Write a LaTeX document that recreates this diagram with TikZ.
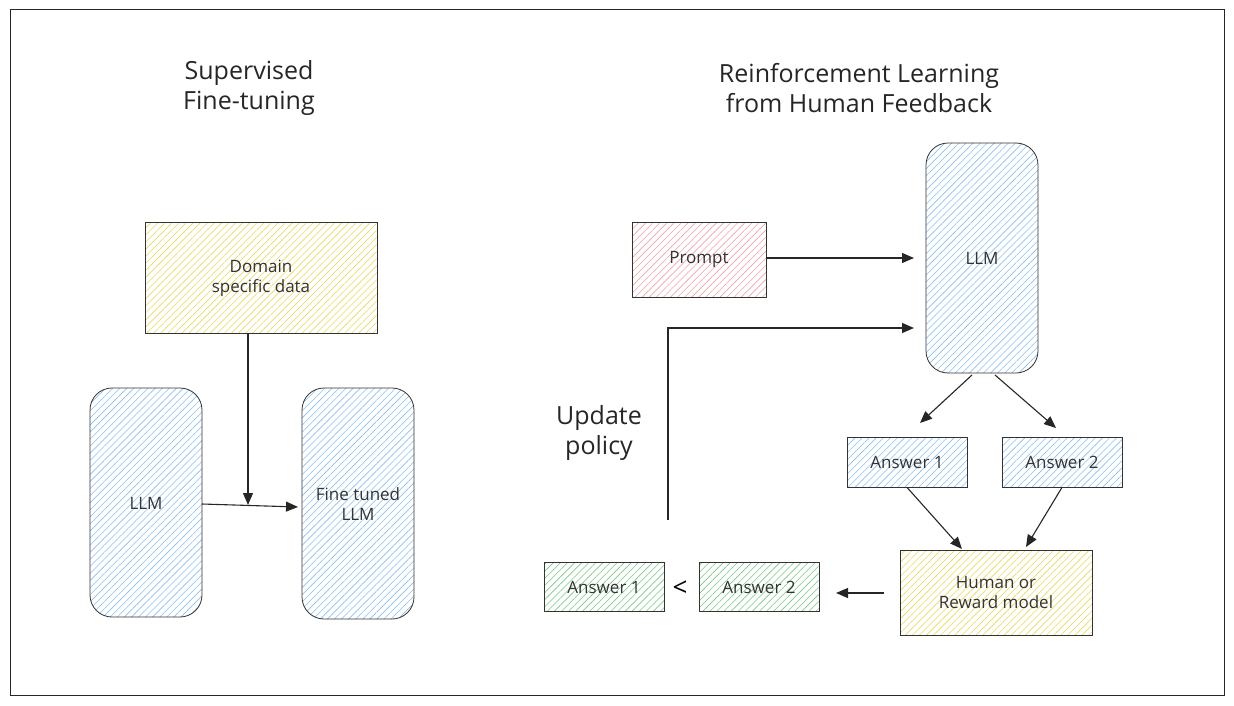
\documentclass[tikz,border=0pt]{standalone}
\usepackage{fontspec}
\setmainfont{Open Sans}
\usetikzlibrary{patterns.meta,arrows.meta}
\definecolor{hblue}{RGB}{140,190,235}
\definecolor{hyel}{RGB}{235,215,90}
\definecolor{hred}{RGB}{240,160,170}
\definecolor{hgreen}{RGB}{120,200,130}
\begin{document}
\begin{tikzpicture}[x=1pt,y=-1pt,
  hb/.style={draw=black!80,line width=0.8pt,align=center,font=\fontsize{17}{20}\selectfont\color{black!80}},
  hatch/.style={pattern={Lines[angle=45,distance=5pt,line width=0.6pt]},pattern color=#1},
  ttl/.style={align=center,font=\fontsize{25}{30}\selectfont\color{black!85}},
  arr/.style={-{Triangle[length=12pt,width=10pt]},line width=1.1pt,black!85}]
\useasboundingbox (0,0) rectangle (1234,706);
\draw[line width=1pt,black!85] (10,10) rectangle (1224,695);
\node[ttl] (t1) at (249,88) {Supervised\\Fine-tuning};
\node[ttl] (t2) at (859,88) {Reinforcement Learning\\from Human Feedback};
% left
\draw[hb,hatch=hyel] (145,222) rectangle (377,333);
\node[hb,draw=none] (dom) at (261,278) {Domain\\specific data};
\coordinate (domb) at (248,333);
\draw[hb,hatch=hblue,rounded corners=22pt] (90,388) rectangle (202,617);
\node[hb,draw=none] (llm1) at (146,503) {LLM};
\draw[hb,hatch=hblue,rounded corners=22pt] (302,388) rectangle (414,619);
\node[hb,draw=none] (ft) at (358,504) {Fine tuned\\LLM};
\coordinate (a1s) at (202,504);
\coordinate (a1e) at (298,507);
\coordinate (a2e) at (248,505);
\draw[arr] (domb) -- (a2e);
\draw[arr] (a1s) -- (a1e);
% right
\draw[hb,hatch=hred] (632,222) rectangle (766,297);
\node[hb,draw=none] (prompt) at (699,259) {Prompt};
\draw[hb,hatch=hblue,rounded corners=22pt] (926,143) rectangle (1038,373);
\node[hb,draw=none] (llm2) at (982,258) {LLM};
\coordinate (p1) at (766,258); \coordinate (p2) at (914,258);
\draw[arr] (p1) -- (p2);
\coordinate (u0) at (668,520); \coordinate (u1) at (668,328); \coordinate (u2) at (914,328);
\draw[arr] (u0) -- (u1) -- (u2);
\node[ttl] (upd) at (599,433) {Update\\policy};
\node[hb,hatch=hblue,minimum width=120pt,minimum height=50pt] (ra1) at (907,462) {Answer 1};
\node[hb,hatch=hblue,minimum width=120pt,minimum height=50pt] (ra2) at (1062,462) {Answer 2};
\coordinate (l1) at (972,375); \coordinate (l1e) at (920,423);
\coordinate (l2) at (995,375); \coordinate (l2e) at (1056,428);
\draw[arr] (l1) -- (l1e);
\draw[arr] (l2) -- (l2e);
\node[hb,hatch=hyel,minimum width=192pt,minimum height=85pt] (hr) at (996,593) {Human or\\Reward model};
\coordinate (h1) at (962,549); \coordinate (h2) at (1026,547);
\draw[arr] (ra1.south) -- (h1);
\draw[arr] (ra2.south) -- (h2);
\node[hb,hatch=hgreen,minimum width=120pt,minimum height=49pt] (ga2) at (759,587) {Answer 2};
\node[hb,hatch=hgreen,minimum width=120pt,minimum height=49pt] (ga1) at (604,587) {Answer 1};
\node[font=\fontsize{26}{28}\selectfont] (lt) at (680,589) {<};
\coordinate (hr1) at (884,593); \coordinate (hr2) at (836,593);
\draw[arr] (hr1) -- (hr2);
\end{tikzpicture}
\end{document}
